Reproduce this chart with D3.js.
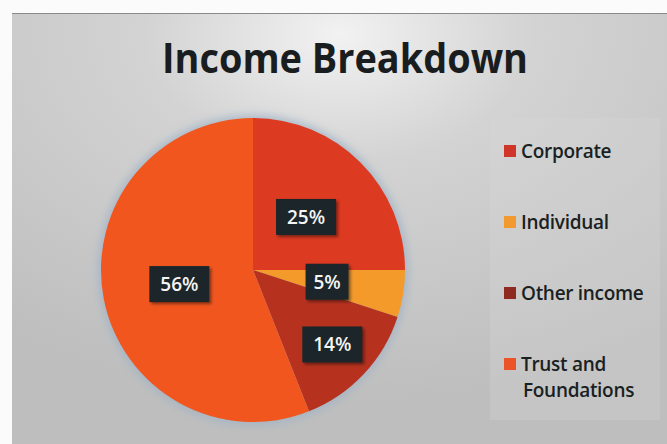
<!DOCTYPE html>
<html>
<head>
<meta charset="utf-8">
<script src="https://cdn.jsdelivr.net/npm/d3@7"></script>
<style>
  html, body { margin: 0; padding: 0; background: #ffffff; }
  svg { display: block; }
</style>
</head>
<body>
<svg id="chart" width="667" height="444"></svg>
<script>
// ---- data ----
const title = "Income Breakdown";
const categories = ["Corporate", "Individual", "Other income", "Trust and Foundations"];
const values = [25, 5, 14, 56];
const legendLines = [["Corporate"], ["Individual"], ["Other income"], ["Trust and", "Foundations"]];

// ---- style ----
const sliceColors = ["#dc3a21", "#f39a2a", "#b6321f", "#f1561f"];
const swatchColors = ["#d0352a", "#f2992f", "#8e2a22", "#ec5428"];
const labelRadiusScale = {"Other income": 1.45};

const svg = d3.select("#chart");
const W = 667, H = 444;
const defs = svg.append("defs");

// background gradient
const bg = defs.append("radialGradient").attr("id", "bg")
  .attr("cx", "0.5").attr("cy", "0.05").attr("r", "0.85");
bg.append("stop").attr("offset", "0").attr("stop-color", "#f2f2f2");
bg.append("stop").attr("offset", "0.35").attr("stop-color", "#d3d3d3");
bg.append("stop").attr("offset", "1").attr("stop-color", "#bebebe");

const blur = defs.append("filter").attr("id", "halo").attr("x", "-20%").attr("y", "-20%").attr("width", "140%").attr("height", "140%");
blur.append("feGaussianBlur").attr("stdDeviation", 4);
const sh = defs.append("filter").attr("id", "shadow").attr("x", "-30%").attr("y", "-30%").attr("width", "160%").attr("height", "160%");
sh.append("feDropShadow").attr("dx", 2).attr("dy", 2).attr("stdDeviation", 1.5).attr("flood-color", "#000").attr("flood-opacity", 0.45);

svg.append("rect").attr("x", 0).attr("y", 0).attr("width", W).attr("height", H).attr("fill", "#fbfbfb");
svg.append("rect").attr("x", 12).attr("y", 13).attr("width", W - 12).attr("height", H - 13).attr("fill", "url(#bg)");
svg.append("line").attr("x1", 12).attr("x2", W).attr("y1", 13.5).attr("y2", 13.5)
  .attr("stroke", "#8a8a8a").attr("stroke-width", 1.2);

// title
svg.append("text")
  .attr("x", 345).attr("y", 73)
  .attr("text-anchor", "middle")
  .attr("font-family", "'Open Sans', sans-serif")
  .attr("font-weight", 700)
  .attr("font-size", 41)
  .attr("fill", "#1a1d20")
  .attr("textLength", 366)
  .attr("lengthAdjust", "spacingAndGlyphs")
  .text(title);

// pie
const cx = 253, cy = 270, R = 152;
const g = svg.append("g").attr("transform", `translate(${cx},${cy})`);
const data = categories.map((c, i) => ({name: c, value: values[i], color: sliceColors[i]}));
const pie = d3.pie().sort(null).value(d => d.value);
const arcs = pie(data);
const arc = d3.arc().innerRadius(0).outerRadius(R);

g.append("circle").attr("r", R + 3).attr("fill", "#9fb2c6").attr("opacity", 0.8).attr("filter", "url(#halo)");
g.selectAll("path.slice").data(arcs).join("path")
  .attr("class", "slice")
  .attr("d", arc)
  .attr("fill", d => d.data.color);

// labels
const lg = g.selectAll("g.lbl").data(arcs).join("g").attr("class", "lbl")
  .attr("transform", d => {
    const a = (d.startAngle + d.endAngle) / 2;
    const rr = 75 * (labelRadiusScale[d.data.name] || 1);
    return `translate(${Math.sin(a) * rr},${-Math.cos(a) * rr})`;
  });
const fmt = d => Math.round(d.value / d3.sum(values) * 100) + "%";
lg.each(function(d) {
  const s = d3.select(this);
  const t = fmt(d.data);
  const w = t.length === 2 ? 43 : 60;
  s.append("rect").attr("x", -w / 2).attr("y", -18).attr("width", w).attr("height", 36)
    .attr("fill", "#1d282b").attr("filter", "url(#shadow)");
  s.append("text").attr("x", 0).attr("y", 7)
    .attr("text-anchor", "middle")
    .attr("font-family", "'Open Sans', sans-serif")
    .attr("font-weight", 600)
    .attr("font-size", 19)
    .attr("fill", "#f4f4f4")
    .text(t);
});

// legend
const legend = svg.append("g");
legend.append("rect").attr("x", 490).attr("y", 118).attr("width", 170).attr("height", 302)
  .attr("fill", "#d8d8d8").attr("opacity", 0.3);
const lgY = d3.scalePoint().domain(categories).range([151, 364]);
const items = legend.selectAll("g.item").data(categories).join("g").attr("class", "item")
  .attr("transform", d => `translate(0,${lgY(d)})`);
items.append("rect").attr("x", 504).attr("y", -6).attr("width", 12).attr("height", 12)
  .attr("fill", (d, i) => swatchColors[i]);
items.each(function(d, i) {
  const t = d3.select(this).append("text")
    .attr("font-family", "'Open Sans', sans-serif")
    .attr("font-size", 19)
    .attr("font-weight", 600)
    .attr("letter-spacing", -0.3)
    .attr("fill", "#1a1f22");
  legendLines[i].forEach((line, j) => {
    t.append("tspan").attr("x", j === 0 ? 521 : 523).attr("y", 7 + j * 26).text(line);
  });
});
</script>
</body>
</html>
